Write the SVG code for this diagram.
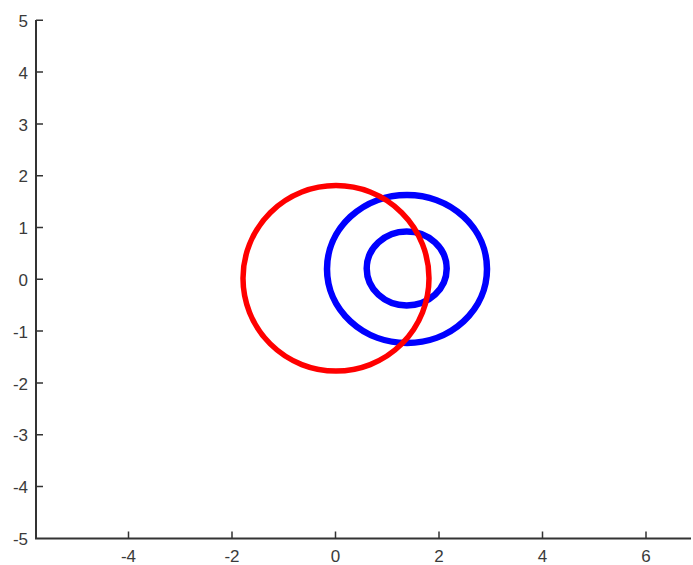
<svg xmlns="http://www.w3.org/2000/svg" width="693" height="565" viewBox="0 0 693 565">
<style>
.ax{stroke:#333;stroke-width:2;fill:none}
.tk{stroke:#333;stroke-width:1.5;fill:none}
.lb{font-family:"Liberation Sans",Arial,sans-serif;font-size:17px;fill:#3a3a3a}
.red{fill:none;stroke:#f00;stroke-width:5.5}
.blue{fill:none;stroke:#00f;stroke-width:6.5}
</style>
<rect width="693" height="565" fill="#fff"/>
<g id="axes">
<path class="ax" d="M36,20 V538.5 H691"/>
<path class="tk" d="M36,20.3h7 M36,72.1h7 M36,123.9h7 M36,175.7h7 M36,227.5h7 M36,279.3h7 M36,331.1h7 M36,382.9h7 M36,434.7h7 M36,486.5h7"/>
<path class="tk" d="M128.5,538.5v-7 M232,538.5v-7 M335.5,538.5v-7 M439,538.5v-7 M542.5,538.5v-7 M646,538.5v-7"/>
<g class="lb" text-anchor="end">
<text x="28" y="26.5">5</text>
<text x="28" y="78.5">4</text>
<text x="28" y="130.5">3</text>
<text x="28" y="182">2</text>
<text x="28" y="234">1</text>
<text x="28" y="286">0</text>
<text x="28" y="337.5">-1</text>
<text x="28" y="389.5">-2</text>
<text x="28" y="441">-3</text>
<text x="28" y="493">-4</text>
<text x="28" y="545">-5</text>
</g>
<g class="lb" text-anchor="middle">
<text x="128.5" y="561.5">-4</text>
<text x="232" y="561.5">-2</text>
<text x="335.5" y="561.5">0</text>
<text x="439" y="561.5">2</text>
<text x="542.5" y="561.5">4</text>
<text x="646" y="561.5">6</text>
</g>
</g>
<g id="blue-outer"><ellipse class="blue" cx="407" cy="269" rx="80" ry="74"/></g>
<g id="blue-inner"><ellipse class="blue" cx="406.7" cy="268.5" rx="40" ry="37"/></g>
<g id="red"><ellipse class="red" cx="336" cy="278.3" rx="93" ry="92.8"/></g>
</svg>
